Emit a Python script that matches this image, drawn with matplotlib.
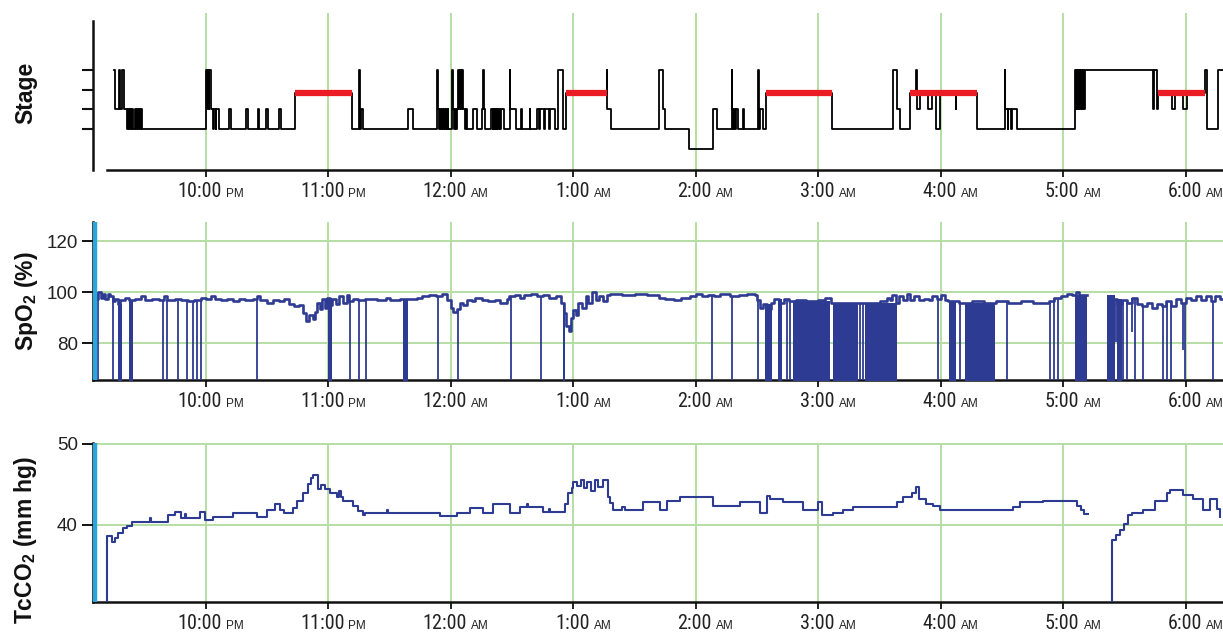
import numpy as np
import matplotlib
matplotlib.use("Agg")
import matplotlib.pyplot as plt
from matplotlib import font_manager

# ---------------- fonts ----------------
_avail = {f.name for f in font_manager.fontManager.ttflist}
def pick(names):
    for n in names:
        if n in _avail:
            return n
    return "DejaVu Sans"
NARROW = pick(["Liberation Sans Narrow", "Roboto Condensed", "Liberation Sans", "DejaVu Sans"])
SANS = pick(["Liberation Sans", "DejaVu Sans"])
plt.rcParams["font.family"] = [SANS, "DejaVu Sans"]
plt.rcParams["mathtext.fontset"] = "custom"
plt.rcParams["mathtext.rm"] = SANS
plt.rcParams["mathtext.bf"] = SANS + ":bold"

# ---------------- data ----------------
# time axis in hours (22 = 10 PM, 24 = midnight, 30 = 6 AM)
hour_ticks = [22, 23, 24, 25, 26, 27, 28, 29, 30]
hour_nums = ["10:00", "11:00", "12:00", "1:00", "2:00", "3:00", "4:00", "5:00", "6:00"]
hour_suffix = ["PM", "PM", "AM", "AM", "AM", "AM", "AM", "AM", "AM"]

stage_levels = {"W": 5.0, "R": 3.85, "N1": 3.0, "N2": 2.0, "N3": 1.0}
stage_ticks = [2, 3, 4, 5]

stage_times = [
    21.250, 21.256, 21.288, 21.296, 21.318, 21.328, 21.353, 21.365, 21.372, 21.382,
    21.390, 21.400, 21.408, 21.418, 21.426, 21.436, 21.444, 21.454, 21.462, 21.472,
    21.480, 22.000, 22.008, 22.014, 22.022, 22.028, 22.038, 22.058, 22.064, 22.078,
    22.084, 22.110, 22.188, 22.205, 22.328, 22.342, 22.422, 22.436, 22.490, 22.504,
    22.600, 22.614, 22.727, 23.189, 23.250, 23.254, 23.266, 23.278, 23.649, 23.690,
    23.888, 23.892, 23.902, 23.908, 23.918, 23.924, 23.934, 23.940, 23.950, 23.956,
    23.966, 23.972, 23.978, 24.011, 24.015, 24.025, 24.031, 24.041, 24.047, 24.060,
    24.066, 24.072, 24.080, 24.088, 24.100, 24.115, 24.120, 24.130, 24.180, 24.210,
    24.250, 24.262, 24.266, 24.280, 24.330, 24.340, 24.346, 24.356, 24.362, 24.372,
    24.378, 24.388, 24.394, 24.404, 24.410, 24.430, 24.480, 24.484, 24.530, 24.575,
    24.580, 24.643, 24.648, 24.700, 24.720, 24.726, 24.760, 24.766, 24.800, 24.806,
    24.850, 24.876, 24.917, 24.936, 25.271, 25.275, 25.310, 25.700, 25.730, 25.750,
    25.940, 26.140, 26.170, 26.290, 26.296, 26.304, 26.310, 26.318, 26.324, 26.340,
    26.380, 26.390, 26.510, 26.515, 26.520, 26.550, 26.570, 27.110, 27.610, 27.640,
    27.665, 27.750, 27.800, 27.803, 27.830, 27.890, 27.930, 27.960, 27.990, 28.120,
    28.125, 28.290, 28.520, 28.524, 28.545, 28.550, 28.575, 28.580, 28.620, 29.094,
    29.100, 29.106, 29.112, 29.118, 29.124, 29.130, 29.136, 29.142, 29.148, 29.163,
    29.167, 29.175, 29.180, 29.730, 29.735, 29.765, 29.770, 29.885, 29.910, 29.975,
    30.010, 30.155, 30.170, 30.264,
]
stage_codes = [
    "W", "N1", "W", "N1", "W", "N1", "N2", "N1", "N2", "N1",
    "N2", "N1", "N2", "N1", "N2", "N1", "N2", "N1", "N2", "N1",
    "N2", "W", "N1", "W", "N1", "W", "N1", "N2", "N1", "N2",
    "N1", "N2", "N1", "N2", "N1", "N2", "N1", "N2", "N1", "N2",
    "N1", "N2", "R", "N2", "W", "N2", "N1", "N2", "N1", "N2",
    "W", "N1", "N2", "N1", "N2", "N1", "N2", "N1", "N2", "N1",
    "N2", "N1", "N2", "W", "N1", "N2", "N1", "N2", "N1", "W",
    "N1", "W", "N1", "W", "N1", "N2", "N1", "N2", "N1", "N2",
    "N1", "W", "N1", "N2", "N1", "N2", "N1", "N2", "N1", "N2",
    "N1", "N2", "N1", "N2", "N1", "N2", "W", "N1", "N2", "N1",
    "N2", "N1", "N2", "N1", "N2", "N1", "N2", "N1", "N2", "N1",
    "N2", "W", "N2", "R", "W", "N1", "N2", "W", "N1", "N2",
    "N3", "N1", "N2", "W", "N1", "N2", "N1", "N2", "N1", "N2",
    "N1", "N2", "W", "N2", "N1", "N2", "R", "N2", "W", "N1",
    "N2", "R", "W", "N1", "R", "N1", "R", "N2", "R", "N1",
    "R", "N2", "W", "N1", "N2", "N1", "N2", "N1", "N2", "W",
    "N1", "W", "N1", "W", "N1", "W", "N1", "W", "N1", "W",
    "N1", "W", "W", "N1", "W", "N1", "R", "N1", "R", "N1",
    "R", "W", "N2", "W",
]

spo2_t = [
    21.080, 21.100, 21.120, 21.140, 21.160, 21.180, 21.200, 21.220, 21.240, 21.260,
    21.280, 21.300, 21.340, 21.370, 21.420, 21.470, 21.500, 21.560, 21.620, 21.660,
    21.680, 21.750, 21.800, 21.850, 21.900, 21.960,
    22.000, 22.040, 22.070, 22.120, 22.170, 22.220, 22.270, 22.320, 22.380, 22.420,
    22.440, 22.500, 22.550, 22.600, 22.640, 22.680, 22.720, 22.760, 22.790, 22.820,
    22.840, 22.870, 22.890, 22.910, 22.930, 22.950, 22.970, 22.990, 23.010, 23.030,
    23.060, 23.090, 23.120, 23.150, 23.170, 23.200, 23.240, 23.300, 23.400, 23.470,
    23.500, 23.580, 23.650, 23.720, 23.760, 23.820, 23.880, 23.930, 23.970,
    24.000, 24.020, 24.050, 24.070, 24.100, 24.130, 24.170, 24.200, 24.250, 24.300,
    24.360, 24.400, 24.460, 24.470, 24.520, 24.560, 24.600, 24.650, 24.700, 24.750,
    24.800, 24.860, 24.900, 24.920, 24.940, 24.960, 24.980,
    25.000, 25.020, 25.040, 25.070, 25.100, 25.120, 25.150, 25.180, 25.210, 25.240,
    25.270, 25.300, 25.400, 25.500, 25.600, 25.700, 25.750, 25.820, 25.880, 25.950,
    26.000, 26.050, 26.100, 26.150, 26.200, 26.280, 26.350, 26.420, 26.480, 26.500,
    26.520, 26.550, 26.580, 26.610, 26.640, 26.680, 26.720, 26.760, 26.820, 26.900,
    27.000, 27.050, 27.100, 27.200, 27.300, 27.400, 27.500, 27.560, 27.580, 27.600,
    27.630, 27.660, 27.690, 27.720, 27.750, 27.780, 27.820, 27.860, 27.900, 27.930,
    27.970,
    28.000, 28.030, 28.060, 28.150, 28.250, 28.350, 28.450, 28.550, 28.650, 28.750,
    28.880, 28.920, 28.980,
    29.030, 29.070, 29.100, 29.130, 29.190, 29.360, 29.400, 29.440, 29.480, 29.520,
    29.560, 29.600, 29.640, 29.680, 29.720, 29.760, 29.800, 29.840, 29.880, 29.920,
    29.960, 30.000, 30.040, 30.080, 30.120, 30.160, 30.200, 30.240, 30.280, 30.310,
]
spo2_v = [
    99.0, 97.5, 100.0, 98.0, 99.5, 97.5, 99.5, 98.5, 96.5, 97.5,
    95.5, 97.0, 98.0, 97.0, 97.5, 98.5, 97.0, 97.5, 97.0, 98.5,
    97.0, 97.5, 97.0, 96.5, 97.0, 98.0,
    97.5, 98.5, 97.5, 97.0, 97.5, 96.5, 97.5, 97.0, 97.5, 98.5,
    97.0, 96.0, 97.0, 96.5, 97.5, 95.5, 94.5, 95.0, 92.0, 89.0,
    91.0, 89.5, 92.5, 96.0, 93.5, 97.5, 94.0, 98.0, 95.0, 97.5,
    95.5, 98.5, 96.0, 99.0, 96.5, 97.5, 97.0, 97.5, 97.0, 98.0,
    97.0, 97.5, 97.5, 98.0, 98.5, 99.0, 98.5, 99.5, 97.0,
    94.0, 92.5, 93.5, 96.0, 95.0, 97.0, 96.5, 98.0, 97.0, 96.5,
    97.0, 96.0, 97.5, 98.5, 99.0, 98.0, 99.0, 99.5, 98.5, 99.0,
    98.0, 98.5, 96.0, 92.0, 87.0, 85.0, 90.0,
    93.0, 91.0, 96.0, 94.0, 98.5, 96.0, 100.0, 97.0, 98.5, 96.5,
    99.0, 99.5, 99.0, 99.5, 99.0, 98.0, 97.5, 97.0, 98.0, 98.5,
    99.5, 98.5, 99.0, 98.5, 99.5, 98.5, 99.0, 99.5, 99.0, 97.0,
    94.0, 95.5, 93.5, 96.0, 97.5, 96.0, 97.5, 96.5, 97.0, 96.5,
    97.0, 98.0, 96.0, 96.0, 96.0, 96.0, 96.5, 98.0, 97.0, 99.0,
    96.0, 98.5, 97.0, 99.5, 97.0, 98.5, 97.0, 97.5, 97.0, 98.5,
    97.5,
    99.0, 97.0, 96.5, 96.0, 96.5, 96.0, 96.5, 96.0, 96.5, 96.0,
    96.5, 98.0, 98.5,
    99.5, 99.0, 100.0, 99.0, np.nan, 96.0, 97.5, 95.5, 97.0, 96.0,
    98.0, 95.5, 94.5, 96.0, 94.0, 95.5, 94.5, 96.5, 94.5, 97.5,
    96.0, 98.0, 97.0, 98.5, 97.0, 98.5, 96.5, 98.5, 97.5, 98.0,
]

# single-sample sensor dropouts (to zero) and longer dropout runs
spo2_drop_times = [
    21.121, 21.238, 21.647, 21.684, 21.774, 21.842, 21.891, 21.924, 21.957, 22.414,
    23.176, 23.251, 23.306, 23.896, 24.060, 24.487, 24.735, 26.128, 26.291, 26.510,
    26.745, 26.767, 27.339, 27.361, 27.978, 28.155, 28.536, 28.890, 28.922, 28.958,
    29.488, 29.516, 29.586, 29.651, 29.815, 29.848, 29.875, 29.992, 30.223,
]
spo2_drop_blocks = [
    (21.282, 21.312), (21.374, 21.402), (22.996, 23.026), (23.608, 23.649),
    (24.912, 24.931), (26.563, 26.618), (26.672, 26.700), (26.795, 27.094),
    (27.121, 27.325), (27.380, 27.638), (28.068, 28.122), (28.196, 28.441),
    (29.090, 29.194), (29.357, 29.420), (29.434, 29.475),
]
spo2_partial = [(29.425, 80.7), (29.560, 84.6), (29.973, 77.5)]

tcco2_t = [
    21.185, 21.192, 21.230, 21.257, 21.284, 21.325, 21.353, 21.393, 21.543, 21.550,
    21.690, 21.747, 21.800, 21.830, 21.840, 21.951, 21.992, 22.060, 22.223, 22.414,
    22.495, 22.563, 22.604, 22.640, 22.713, 22.740, 22.794, 22.835, 22.854, 22.876,
    22.917, 22.940, 22.970, 23.012, 23.067, 23.090, 23.100, 23.121, 23.202, 23.240,
    23.284, 23.300, 23.475, 23.485, 23.910, 24.046, 24.155, 24.264, 24.345,
    24.482, 24.563, 24.620, 24.630, 24.754, 24.800, 24.810, 24.930, 24.958, 24.985,
    25.000, 25.030, 25.060, 25.090, 25.110, 25.140, 25.176, 25.200, 25.243, 25.284,
    25.300, 25.325, 25.400, 25.420, 25.570, 25.706, 25.760, 25.870, 26.141, 26.359,
    26.522, 26.577, 26.604, 26.713, 26.876, 26.996, 27.026, 27.040, 27.120, 27.200,
    27.284, 27.638, 27.692, 27.760, 27.800, 27.820, 27.880, 27.937, 27.990, 28.070,
    28.590, 28.645, 28.835, 29.108, 29.140, 29.170, 29.200,
    29.390, 29.393, 29.430, 29.460, 29.490, 29.530, 29.560, 29.651, 29.747, 29.842,
    29.870, 29.978, 30.060, 30.140, 30.196, 30.250, 30.280,
]
tcco2_v = [
    0.0, 38.6, 37.9, 38.4, 39.0, 39.6, 39.9, 40.4, 40.8, 40.4,
    41.2, 41.6, 40.9, 41.3, 40.9, 41.6, 40.6, 41.0, 41.5, 41.0,
    41.8, 42.6, 41.9, 41.5, 42.1, 42.9, 43.9, 45.0, 45.8, 46.2,
    44.4, 44.9, 44.4, 43.9, 43.5, 44.2, 43.5, 42.9, 42.3, 41.7,
    41.2, 41.5, 41.8, 41.5, 41.1, 41.5, 42.1, 41.5, 42.6,
    41.5, 42.2, 42.6, 42.2, 41.6, 42.0, 41.6, 42.6, 43.9, 44.6,
    45.3, 44.8, 45.5, 44.6, 45.3, 44.2, 45.6, 44.7, 45.5, 43.5,
    42.7, 41.9, 42.2, 41.9, 42.8, 41.9, 43.0, 43.5, 42.3, 42.8,
    41.5, 43.6, 43.2, 42.8, 41.9, 42.8, 41.2, 41.2, 41.5, 41.9,
    42.2, 42.8, 43.5, 44.0, 44.7, 43.2, 42.6, 42.3, 41.9, 41.8,
    42.2, 42.8, 43.0, 42.3, 41.8, 41.4, np.nan,
    0.0, 38.1, 38.8, 39.4, 40.1, 41.2, 41.5, 41.8, 42.9, 43.9,
    44.3, 43.7, 43.2, 41.9, 43.2, 42.0, 41.0,
]

# ---------------- style ----------------
GRID = "#b5dea2"
NAVY = "#2e3b92"
RED = "#ec1c24"
CYAN = "#29a6dd"
XLIM = (21.078, 30.302)

W_PX, H_PX = 1223, 632
fig = plt.figure(figsize=(W_PX / 100, H_PX / 100), dpi=100)

def axes_px(top, bottom, left=93, right=1223):
    return fig.add_axes([left / W_PX, 1 - bottom / H_PX, (right - left) / W_PX, (bottom - top) / H_PX])

ax1 = axes_px(13, 170)
ax2 = axes_px(222, 380)
ax3 = axes_px(443, 602)

def style_time_axis(ax):
    ax.set_xlim(*XLIM)
    ax.set_xticks(hour_ticks)
    ax.set_xticklabels([])
    ax.tick_params(axis="x", length=5, width=1.4, color="#222222", direction="out")
    for s in ("top", "right"):
        ax.spines[s].set_visible(False)
    for s in ("left", "bottom"):
        ax.spines[s].set_linewidth(1.8)
        ax.spines[s].set_color("#111111")
    for h in hour_ticks:
        ax.axvline(h, color=GRID, lw=1.4, zorder=0)
    for h, num, suf in zip(hour_ticks, hour_nums, hour_suffix):
        ax.annotate(num, xy=(h, 0), xycoords=("data", "axes fraction"),
                    xytext=(16, -27), textcoords="offset pixels",
                    ha="right", va="baseline", fontsize=14.5,
                    family=[NARROW, "DejaVu Sans"], color="#222222", annotation_clip=False)
        ax.annotate(suf, xy=(h, 0), xycoords=("data", "axes fraction"),
                    xytext=(20, -27), textcoords="offset pixels",
                    ha="left", va="baseline", fontsize=8.5,
                    family=[SANS, "DejaVu Sans"], color="#222222", annotation_clip=False)

# ---------- panel 1: hypnogram ----------
style_time_axis(ax1)
ylo1, yhi1 = -0.085, 7.897
ax1.set_ylim(ylo1, yhi1)
ax1.spines["left"].set_bounds(ylo1, 7.49)
ax1.spines["bottom"].set_bounds(21.19, XLIM[1])
ax1.set_yticks(stage_ticks)
ax1.set_yticklabels([])
ax1.tick_params(axis="y", length=8, width=1.5, color="#111111")
st_y = [stage_levels[c] for c in stage_codes]
ax1.step(stage_times + [XLIM[1] + 0.1], st_y + [st_y[-1]], where="post",
         color="black", lw=1.3, zorder=2)
# REM periods: consecutive R epochs joined across brief interruptions
rem_spans = []
for i, c in enumerate(stage_codes):
    if c == "R":
        t_end = stage_times[i + 1] if i + 1 < len(stage_times) else XLIM[1]
        if rem_spans and stage_times[i] - rem_spans[-1][1] < 0.1:
            rem_spans[-1][1] = t_end
        else:
            rem_spans.append([stage_times[i], t_end])
for s, e in rem_spans:
    ax1.hlines(stage_levels["R"], s, e, color=RED, lw=4.5, zorder=3)

# ---------- panel 2: SpO2 ----------
style_time_axis(ax2)
ax2.set_ylim(65.7, 127.6)
ax2.set_yticks([80, 100, 120])
ax2.tick_params(axis="y", length=8, width=1.4, color="#111111", labelsize=13.5,
                labelcolor="#222222", pad=3)
for y in [80, 100, 120]:
    ax2.axhline(y, color=GRID, lw=1.4, zorder=0)
ax2.step(spo2_t, spo2_v, where="post", color=NAVY, lw=1.9, zorder=3)
spo2_t_arr = np.array(spo2_t)
spo2_v_arr = np.array(spo2_v)

def spo2_at(t):
    i = max(np.searchsorted(spo2_t_arr, t, side="right") - 1, 0)
    v = spo2_v_arr[i]
    if np.isnan(v):
        v = spo2_v_arr[i - 1]
    return v

ax2.vlines(spo2_drop_times, 0, [spo2_at(t) for t in spo2_drop_times],
           color=NAVY, lw=1.3, zorder=3)
for s, e in spo2_drop_blocks:
    ax2.fill_between([s, e], 0, spo2_at(s), color=NAVY, lw=0, zorder=3)
for t, lo in spo2_partial:
    ax2.vlines(t, lo, spo2_at(t), color=NAVY, lw=1.3, zorder=3)
ax2.axvline(21.098, color=CYAN, lw=3.2, zorder=4)

# ---------- panel 3: TcCO2 ----------
style_time_axis(ax3)
ax3.set_ylim(30.49, 50.12)
ax3.set_yticks([40, 50])
ax3.tick_params(axis="y", length=8, width=1.4, color="#111111", labelsize=13.5,
                labelcolor="#222222", pad=3)
for y in [40, 50]:
    ax3.axhline(y, color=GRID, lw=1.4, zorder=0)
ax3.step(tcco2_t, tcco2_v, where="post", color=NAVY, lw=1.5, zorder=3)
ax3.axvline(21.098, color=CYAN, lw=3.2, zorder=4)

# ---------- y labels ----------
fig.text(26 / W_PX, 1 - 93 / H_PX, "Stage", rotation=90, ha="center", va="center",
         fontsize=16.5, fontweight="bold", color="#111111")
fig.text(26 / W_PX, 1 - 301 / H_PX, r"SpO$_\mathbf{2}$ (%)", rotation=90, ha="center",
         va="center", fontsize=16.5, fontweight="bold", color="#111111")
fig.text(26 / W_PX, 1 - 540 / H_PX, r"TcCO$_\mathbf{2}$ (mm hg)", rotation=90, ha="center",
         va="center", fontsize=16.5, fontweight="bold", color="#111111")

fig.savefig("out.png", dpi=100)
